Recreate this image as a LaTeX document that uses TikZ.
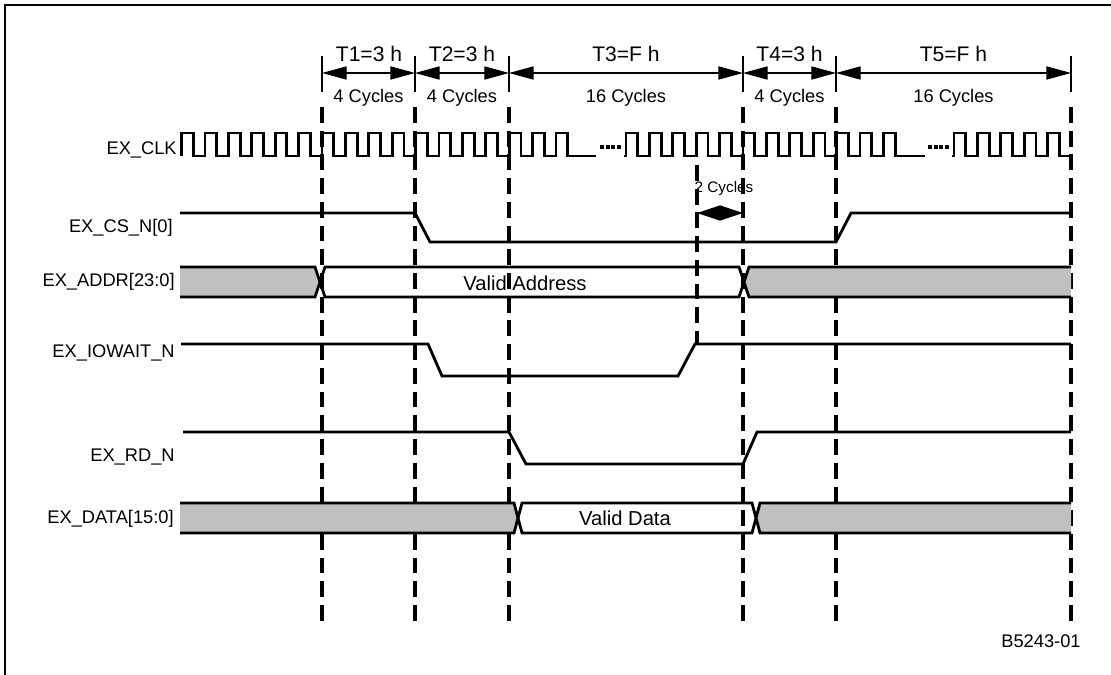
\documentclass[tikz,border=0pt]{standalone}
\usepackage{fontspec}
\setmainfont{Liberation Sans}
\usepackage{xcolor}
\usepackage{tikz}
\usetikzlibrary{arrows.meta}
\definecolor{busgray}{HTML}{C0C0C0}

\begin{document}
\begin{tikzpicture}[
          x=0.02cm, y=-0.02cm,
          sig/.style={line width=1.6pt, line join=miter},
          guide/.style={line width=1.9pt, dash pattern=on 9pt off 4.5pt},
          tick/.style={line width=0.6pt},
          span/.style={line width=0.6pt, {Triangle[length=14pt,width=7.5pt]}-{Triangle[length=14pt,width=7.5pt]}},
          gap/.style={line width=0.6pt, {Triangle[length=13pt,width=8.5pt]}-{Triangle[length=13pt,width=8.5pt]}},
          brk/.style={line width=2pt, dash pattern=on 2.3pt off 0.9pt},
          lbl/.style={font=\fontsize{10.4}{12}\selectfont, anchor=east, inner sep=0pt},
          per/.style={font=\fontsize{12}{14}\selectfont, inner sep=0pt},
          cyc/.style={font=\fontsize{10.4}{12}\selectfont, inner sep=0pt},
          val/.style={font=\fontsize{11.5}{13}\selectfont, inner sep=0pt},
          busfill/.style={fill=busgray}
      ]
        \useasboundingbox (0,0) rectangle (1111,675);
        \draw[line width=1.2pt] (5,675) -- (5,5) -- (1111,5);

        % period boundaries
        \coordinate (b0) at (322,73);
        \coordinate (b1) at (415,73);
        \coordinate (b2) at (509,73);
        \coordinate (b3) at (743,73);
        \coordinate (b4) at (836,73);
        \coordinate (b5) at (1071,73);

        \foreach \x in {322,415,509,743,836,1071} {
          \draw[tick] (\x,56) -- (\x,92);
          \draw[guide] (\x,107) -- (\x,621);
        }
        \draw[guide] (697,165) -- (697,345);

        \draw[span] (b0) -- (b1);
        \draw[span] (b1) -- (b2);
        \draw[span] (b2) -- (b3);
        \draw[span] (b3) -- (b4);
        \draw[span] (b4) -- (b5);

        \node[per] (t1) at (369,54) {T1=3 h};
        \node[per] (t2) at (462,54) {T2=3 h};
        \node[per] (t3) at (626,54) {T3=F h};
        \node[per] (t4) at (789.5,54) {T4=3 h};
        \node[per] (t5) at (953.5,54) {T5=F h};
        \node[cyc] (c1) at (368.5,98) {4 Cycles};
        \node[cyc] (c2) at (462,98) {4 Cycles};
        \node[cyc] (c3) at (626,98) {16 Cycles};
        \node[cyc] (c4) at (789.5,98) {4 Cycles};
        \node[cyc] (c5) at (953.5,98) {16 Cycles};

        % signal names
        \node[lbl] (nclk) at (177,150) {EX\_CLK};
        \node[lbl] (ncs) at (173,228) {EX\_CS\_N[0]};
        \node[lbl] (naddr) at (175,282) {EX\_ADDR[23:0]};
        \node[lbl] (nwait) at (175,353) {EX\_IOWAIT\_N};
        \node[lbl] (nrd) at (175,457) {EX\_RD\_N};
        \node[lbl] (ndata) at (174,519) {EX\_DATA[15:0]};

        % clock
        \draw[sig] (181.6,156) foreach \i in {1,...,17} { -- ++(0,-23) -- ++(11.7,0) -- ++(0,23) -- ++(11.7,0) } -- (596,156);
        \draw[sig] (624,156) -- (626,156) foreach \i in {1,...,12} { -- ++(0,-23) -- ++(11.7,0) -- ++(0,23) -- ++(11.7,0) } -- (925,156);
        \draw[sig] (952,156) -- (954,156) foreach \i in {1,...,5} { -- ++(0,-23) -- ++(11.7,0) -- ++(0,23) -- ++(11.7,0) };
        \draw[brk] (600,147) -- (621,147);
        \draw[brk] (928,147) -- (949,147);

        % chip select
        \draw[sig] (180,213) -- (415,213) -- (430,242) -- (836,242) -- (851,213) -- (1071,213);
        \draw[gap] (697,213) -- (743,213);
        \node[font=\fontsize{8.7}{10}\selectfont, inner sep=0pt] (two) at (724,189) {2 Cycles};

        % address bus
        \fill[busfill] (180,267) -- (315,267) -- (320,282) -- (315,297) -- (180,297) -- cycle;
        \draw[sig] (180,267) -- (315,267) -- (320,282) -- (315,297) -- (180,297);
        \draw[sig] (325,267) -- (739,267) -- (744,282) -- (739,297) -- (325,297) -- (320,282) -- cycle;
        \fill[busfill] (1071,267) -- (749,267) -- (744,282) -- (749,297) -- (1071,297) -- cycle;
        \draw[sig] (1071,267) -- (749,267) -- (744,282) -- (749,297) -- (1071,297);
        \node[val] (vaddr) at (525,283) {Valid Address};

        % wait and read strobes
        \draw[sig] (181,344) -- (428,344) -- (442,376) -- (678,376) -- (695,344) -- (1071,344);
        \draw[sig] (183,432) -- (509,432) -- (526,464) -- (743,464) -- (757,432) -- (1071,432);

        % data bus
        \fill[busfill] (180,503) -- (514,503) -- (518,518) -- (514,533) -- (180,533) -- cycle;
        \draw[sig] (180,503) -- (514,503) -- (518,518) -- (514,533) -- (180,533);
        \draw[sig] (522,503) -- (752,503) -- (756,518) -- (752,533) -- (522,533) -- (518,518) -- cycle;
        \fill[busfill] (1071,503) -- (760,503) -- (756,518) -- (760,533) -- (1071,533) -- cycle;
        \draw[sig] (1071,503) -- (760,503) -- (756,518) -- (760,533) -- (1071,533);
        \node[val] (vdata) at (625,518) {Valid Data};

        \node[cyc] (fig) at (1041,641) {B5243-01};
      \end{tikzpicture}
\end{document}
